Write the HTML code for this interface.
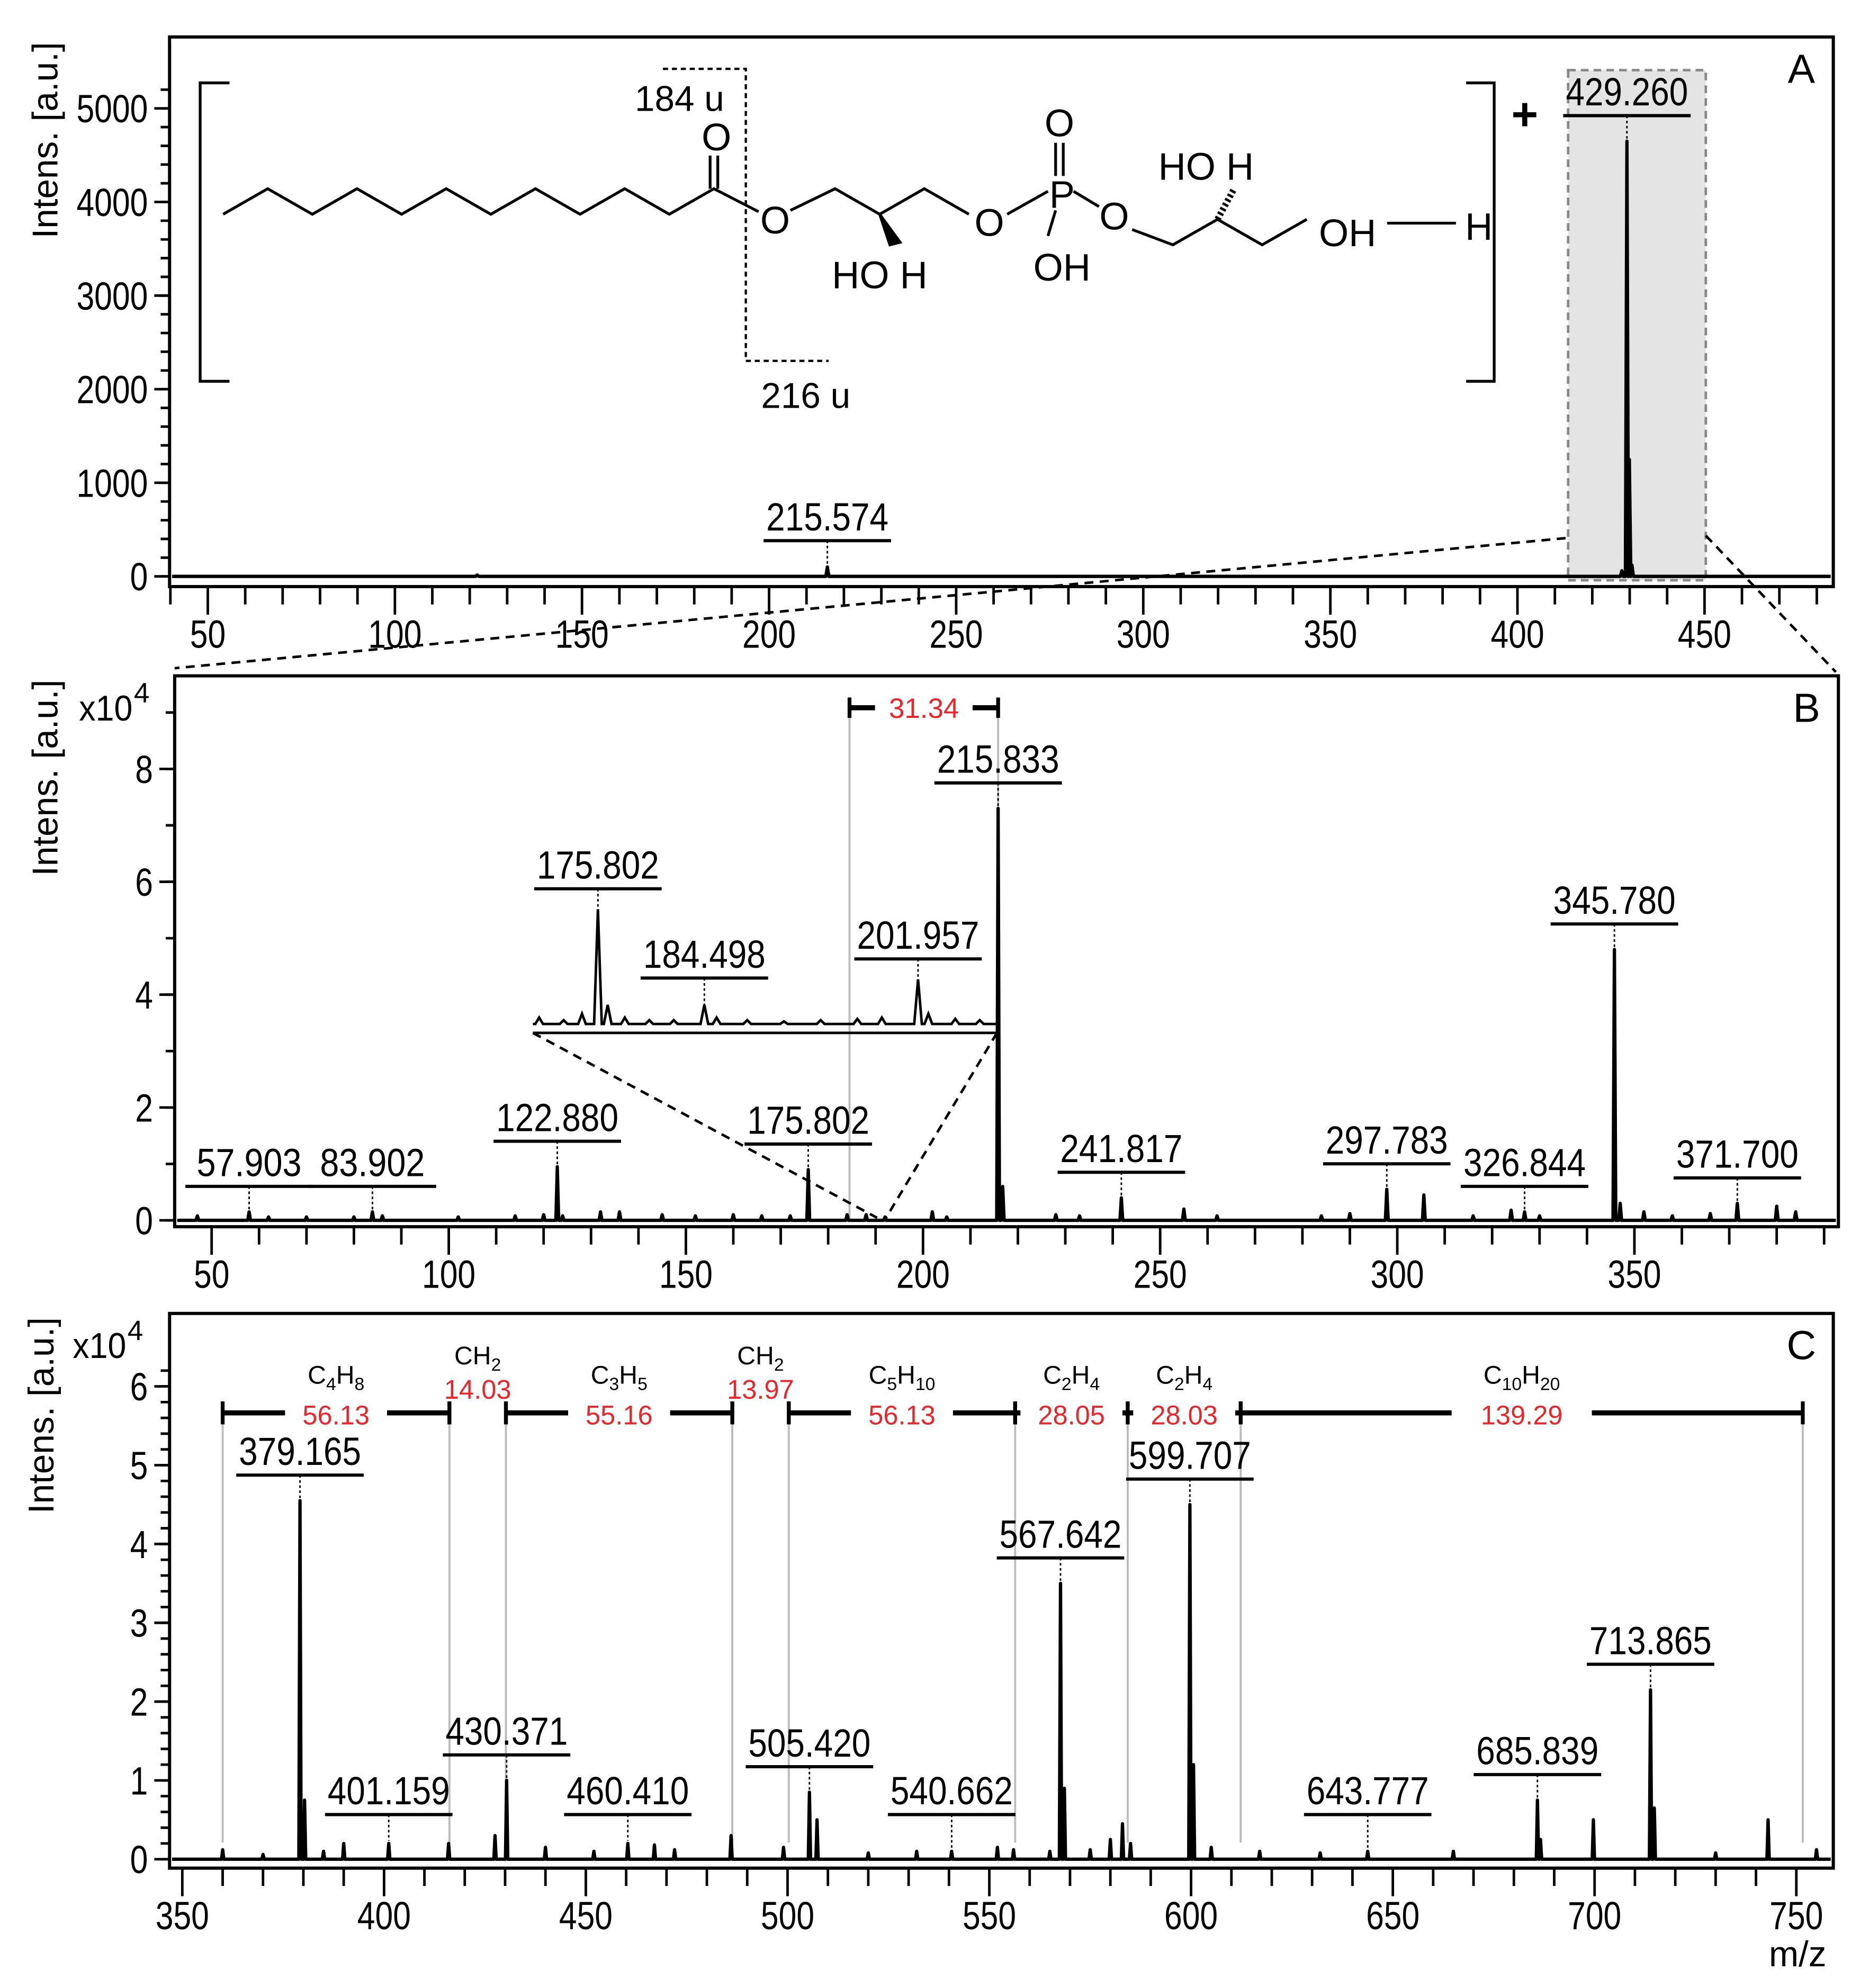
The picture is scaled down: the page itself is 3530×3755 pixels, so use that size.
<!DOCTYPE html>
<html><head><meta charset="utf-8"><style>
html,body{margin:0;padding:0;background:#fff}
svg{display:block}
text{font-family:"Liberation Sans Narrow","Liberation Sans",sans-serif}
</style></head><body>
<svg id="fig" xmlns="http://www.w3.org/2000/svg" width="3530" height="3755" viewBox="0 0 1466 1559" preserveAspectRatio="none">
<g id="structure" fill="none" stroke="#000" stroke-width="2.2">
 <polyline points="175,168 210,148 245,168 280,148 315,168 350,148 385,168 420,148 455,168 490,148 525,168 560,148 595,166"/>
 <line x1="557" y1="148" x2="557" y2="122"/><line x1="563" y1="148" x2="563" y2="122"/>
 <polyline points="620,165 655,148 690,168 725,148 760,168"/>
 <line x1="790" y1="168" x2="822" y2="150"/>
 <line x1="828" y1="138" x2="828" y2="112"/><line x1="834" y1="138" x2="834" y2="112"/>
 <line x1="828" y1="165" x2="822" y2="185"/>
 <line x1="842" y1="150" x2="862" y2="162"/>
 <polyline points="888,180 920,192 955,172 990,192 1025,172"/>
 <line x1="1088" y1="175" x2="1142" y2="175"/>
 <polygon points="690,168 698,192 706,190" fill="#000"/>
 <line x1="955" y1="172" x2="968" y2="148" stroke-dasharray="2,2" stroke-width="5"/>
 <polyline points="180,65 157,65 157,299 180,299"/>
 <polyline points="1150,65 1172,65 1172,299 1150,299"/>
 <polyline points="520,54 585,54 585,283 650,283" stroke-dasharray="4,3" stroke-width="1.8"/>
</g>
<g font-size="30" fill="#000">
 <text x="562" y="118" text-anchor="middle" style="font-family:'Liberation Sans',sans-serif">O</text>
 <text x="608" y="183" text-anchor="middle" style="font-family:'Liberation Sans',sans-serif">O</text>
 <text x="776" y="185" text-anchor="middle" style="font-family:'Liberation Sans',sans-serif">O</text>
 <text x="833" y="163" text-anchor="middle" style="font-family:'Liberation Sans',sans-serif">P</text>
 <text x="831" y="107" text-anchor="middle" style="font-family:'Liberation Sans',sans-serif">O</text>
 <text x="833" y="220" text-anchor="middle" style="font-family:'Liberation Sans',sans-serif">OH</text>
 <text x="874" y="180" text-anchor="middle" style="font-family:'Liberation Sans',sans-serif">O</text>
 <text x="1057" y="193" text-anchor="middle" style="font-family:'Liberation Sans',sans-serif">OH</text>
 <text x="1160" y="188" text-anchor="middle" style="font-family:'Liberation Sans',sans-serif">H</text>
 <text x="690" y="226" text-anchor="middle" style="font-family:'Liberation Sans',sans-serif">HO H</text>
 <text x="946" y="141" text-anchor="middle" style="font-family:'Liberation Sans',sans-serif">HO  H</text>
 <text x="533" y="87" text-anchor="middle" font-size="28" style="font-family:'Liberation Sans',sans-serif">184 u</text>
 <text x="632" y="320" text-anchor="middle" font-size="28" style="font-family:'Liberation Sans',sans-serif">216 u</text>
 <text x="1196" y="102" text-anchor="middle" font-size="36" font-weight="bold" style="font-family:'Liberation Sans',sans-serif">+</text>
</g>
</svg>
<script>
const NS="http://www.w3.org/2000/svg";
const svg=document.getElementById('fig');
// ---------- DATA ----------
const aTicksY=[0,1000,2000,3000,4000,5000];
const aTicksX=[50,100,150,200,250,300,350,400,450];
const aPeaksMz=[122,215.574,427.9,429.26,429.9,430.6];
const aPeaksI=[15,100,60,4650,1250,120];
const aLabels=["215.574","429.260"];
const aLabelMz=[215.574,429.26];

const bTicksY=[0,2,4,6,8];
const bTicksX=[50,100,150,200,250,300,350];
const bPeaksMz=[47,57.903,62,70,80,83.902,86,102,114,120,122.88,124,132,136,145,152,160,166,172,175.802,184,188,192,201.957,205,215.833,216.8,228,233,241.817,255,262,284,290,297.783,305.6,316,324,326.844,330,345.78,347,352,358,366,371.7,380,384];
const bPeaksI=[0.08,0.15,0.06,0.06,0.06,0.15,0.08,0.06,0.08,0.1,0.95,0.08,0.15,0.15,0.1,0.08,0.1,0.08,0.08,0.9,0.1,0.1,0.06,0.15,0.06,7.3,0.6,0.1,0.08,0.4,0.2,0.08,0.08,0.12,0.55,0.45,0.08,0.18,0.15,0.08,4.8,0.3,0.15,0.08,0.12,0.3,0.25,0.15];
const bLabels=["57.903","83.902","122.880","175.802","215.833","241.817","297.783","326.844","345.780","371.700"];
const bLabelMz=[57.903,83.902,122.88,175.802,215.833,241.817,297.783,326.844,345.78,371.7];
const insetMz=[171,173,174.5,175.802,176.6,178,180,182,184.498,185.5,188,191,194,197,199,201.957,202.8,205,207];
const insetI=[0.05,0.03,0.08,0.9,0.15,0.05,0.03,0.03,0.15,0.05,0.03,0.02,0.03,0.04,0.05,0.35,0.08,0.04,0.03];
const insetLabels=["175.802","184.498","201.957"];
const insetLabelMz=[175.802,184.498,201.957];

const cTicksY=[0,1,2,3,4,5,6];
const cTicksX=[350,400,450,500,550,600,650,700,750];
const cPeaksMz=[360,370,379.165,380.3,385,390,401.159,416,427.5,430.371,440,452,460.41,467,472,486,499,505.42,507.3,520,532,540.662,552,556,565,567.642,568.6,575,580,583,585,599.707,600.6,605,617,632,643.777,665,685.839,686.6,699.7,713.865,714.8,730,743,755];
const cPeaksI=[0.12,0.06,4.55,0.75,0.1,0.2,0.2,0.2,0.3,1.0,0.15,0.1,0.2,0.18,0.12,0.3,0.15,0.85,0.5,0.08,0.1,0.1,0.15,0.12,0.1,3.5,0.9,0.12,0.25,0.45,0.2,4.5,1.2,0.15,0.1,0.08,0.1,0.1,0.75,0.25,0.5,2.15,0.65,0.08,0.5,0.12];
const cLabels=["379.165","401.159","430.371","460.410","505.420","540.662","567.642","599.707","643.777","685.839","713.865"];
const cLabelMz=[379.165,401.159,430.371,460.41,505.42,540.662,567.642,599.707,643.777,685.839,713.865];
const cMarkMz=[360,416.2,430.2,486.3,500.3,556.4,584.3,612.3,751.6];
const cDiff=["56.13","14.03","55.16","13.97","56.13","28.05","28.03","139.29"];
const cFormula=[["C","4","H","8"],["CH","2"],["C","3","H","5"],["CH","2"],["C","5","H","10"],["C","2","H","4"],["C","2","H","4"],["C","10","H","20"]];

// ---------- helpers ----------
function el(tag,attrs,parent){const e=document.createElementNS(NS,tag);for(const k in attrs)e.setAttribute(k,attrs[k]);(parent||svg).appendChild(e);return e;}
function txt(s,x,y,size,attrs,parent){const t=el('text',Object.assign({x:x,y:y,'font-size':size},attrs||{}),parent);t.textContent=s;return t;}
function narrow(t,s,per){t.setAttribute('textLength',s.length*per);t.setAttribute('lengthAdjust','spacingAndGlyphs');}

function panel(cfg){
 const g=el('g',{});
 
 
 const X=m=>cfg.x0+(m-cfg.m0)*cfg.kx;
 const Y=v=>cfg.base-v*cfg.ky;
 const fr=el('rect',{x:cfg.L,y:cfg.T,width:cfg.R-cfg.L,height:cfg.B-cfg.T,fill:'none',stroke:'#000','stroke-width':2.5},g);
 
 
 if(cfg.pre)cfg.pre(g,X,Y);
 const yMax=cfg.yTicks[cfg.yTicks.length-1];
 for(let v=0;v<=yMax+cfg.yMinor*1.5+1e-9;v+=cfg.yMinor){const yy=Y(v);if(yy<cfg.T+3)break;el('line',{x1:cfg.L-7,x2:cfg.L,y1:yy,y2:yy,stroke:'#000','stroke-width':2},g);}
 cfg.yTicks.forEach(v=>{const yy=Y(v);el('line',{x1:cfg.L-12,x2:cfg.L,y1:yy,y2:yy,stroke:'#000','stroke-width':2},g);
  const s=cfg.yFmt(v);
  const t=txt(s,cfg.L-17,yy+11,31,{'text-anchor':'end'},g);
  narrow(t,s,14);
  
  });
 for(let m=cfg.xMinStart;m<=cfg.xMinEnd;m+=10){const xx=X(m);if(xx<cfg.L||xx>cfg.R)continue;const maj=(m%50===0);
  el('line',{x1:xx,x2:xx,y1:cfg.B,y2:cfg.B+(maj?22:14),stroke:'#000','stroke-width':2},g);}
 cfg.xTicks.forEach(m=>{const s=String(m);const t=txt(s,X(m),cfg.B+48,31,{'text-anchor':'middle'},g);
  narrow(t,s,14);
  
  });
 let d='M'+(cfg.L+2)+','+cfg.base;
 cfg.mz.map((m,i)=>[m,cfg.I[i]]).sort((a,b)=>a[0]-b[0]).forEach(([m,v])=>{const xx=X(m),w=cfg.pw;d+=' L'+(xx-w)+','+cfg.base+' L'+xx+','+Y(v)+' L'+(xx+w)+','+cfg.base;});
 d+=' L'+(cfg.R-2)+','+cfg.base;
 const sp=el('path',{d:d,fill:'none',stroke:'#000','stroke-width':2.6,'stroke-linejoin':'round'},g);
 
 
 cfg.labels.forEach((s,i)=>{const m=cfg.labelMz[i];const idx=cfg.mz.indexOf(m);const py=Y(cfg.I[idx]);
  const by=Math.min(py-20,cfg.base-cfg.minGap);const xx=X(m);
  const lg=el('g',{},g);
  
  
  el('line',{x1:xx,x2:xx,y1:by,y2:py-2,stroke:'#000','stroke-width':1.2,'stroke-dasharray':'2,2'},lg);
  el('line',{x1:xx-50,x2:xx+50,y1:by,y2:by,stroke:'#000','stroke-width':2.5},lg);
  const t=txt(s,xx,by-8,31,{'text-anchor':'middle'},lg);
  narrow(t,s,13.7);});
 const at=txt('Intens. [a.u.]',0,0,28,{'text-anchor':'middle',transform:'translate('+cfg.titleX+','+cfg.titleY+') rotate(-90)',style:"font-family:'Liberation Sans',sans-serif"},g);
 
 
 const pl=txt(cfg.letter,cfg.R-25,cfg.T+36,32,{'text-anchor':'middle',style:"font-family:'Liberation Sans',sans-serif"},g);
 
 
 if(cfg.post)cfg.post(g,X,Y);
 return g;
}

// Panel A
panel({name:'panel-a',L:133,R:1438,T:29,B:460,base:452,x0:163,m0:50,kx:2.935,ky:0.0734,yTicks:aTicksY,yMinor:200,yFmt:v=>String(v),
 xTicks:aTicksX,xMinStart:40,xMinEnd:480,mz:aPeaksMz,I:aPeaksI,pw:1.2,labels:aLabels,labelMz:aLabelMz,minGap:28,titleX:45,titleY:110,letter:'A',
 pre:(g,X,Y)=>{const r=el('rect',{x:1230,y:55,width:108,height:400,fill:'#e4e4e4',stroke:'#888','stroke-width':2,'stroke-dasharray':'6,4'},g);
  
  }});
// Panel B
panel({name:'panel-b',L:137,R:1442,T:530,B:962,base:957,x0:166,m0:50,kx:3.72,ky:44.25,yTicks:bTicksY,yMinor:1,yFmt:v=>String(v),
 xTicks:bTicksX,xMinStart:40,xMinEnd:390,mz:bPeaksMz,I:bPeaksI,pw:1.1,labels:bLabels,labelMz:bLabelMz,minGap:22,titleX:45,titleY:610,letter:'B',
 pre:(g,X,Y)=>{[184.5,215.833].forEach(m=>el('line',{x1:X(m),x2:X(m),y1:550,y2:957,stroke:'#bbb','stroke-width':1.6},g));
  el('line',{x1:X(184.5),x2:X(184.5)+20,y1:555,y2:555,stroke:'#000','stroke-width':4},g);
  el('line',{x1:X(215.833)-20,x2:X(215.833),y1:555,y2:555,stroke:'#000','stroke-width':4},g);
  [184.5,215.833].forEach(m=>el('line',{x1:X(m),x2:X(m),y1:547,y2:563,stroke:'#000','stroke-width':3},g));
  const dt=txt('31.34',X(200.2),563,22,{'text-anchor':'middle',fill:'#e8262b',style:"font-family:'Liberation Sans',sans-serif"},g);
  
  
  const xl=txt('x10',62,565,28,{},g);narrow(xl,'x10',14);txt('4',105,551,22,{},g);
  
  },
 post:(g,X,Y)=>{const ig=el('g',{},g);
  
  
  const XI=m=>469+(m-175.802)*9.6, YI=v=>803-v*100;
  let d='M418,803';insetMz.forEach((m,i)=>{const xx=XI(m);d+=' L'+(xx-3)+',803 L'+xx+','+YI(insetI[i])+' L'+(xx+3)+',803';});d+=' L782,803';
  el('path',{d:d,fill:'none',stroke:'#000','stroke-width':2},ig);
  el('line',{x1:418,x2:782,y1:810,y2:810,stroke:'#000','stroke-width':2},ig);
  el('line',{x1:418,y1:810,x2:688,y2:955,stroke:'#000','stroke-width':2,'stroke-dasharray':'7,5'},ig);
  el('line',{x1:782,y1:810,x2:695,y2:955,stroke:'#000','stroke-width':2,'stroke-dasharray':'7,5'},ig);
  insetLabels.forEach((s,i)=>{const m=insetLabelMz[i];const py=YI(insetI[insetMz.indexOf(m)]);const by=Math.min(py-16,767);const xx=XI(m);
   el('line',{x1:xx,x2:xx,y1:by,y2:py,stroke:'#000','stroke-width':1.2,'stroke-dasharray':'2,2'},ig);
   el('line',{x1:xx-50,x2:xx+50,y1:by,y2:by,stroke:'#000','stroke-width':2.5},ig);
   const t=txt(s,xx,by-8,31,{'text-anchor':'middle'},ig);
   narrow(t,s,13.7);});}});
// Panel C
panel({name:'panel-c',L:133,R:1438,T:1030,B:1465,base:1458,x0:143,m0:350,kx:3.165,ky:61.8,yTicks:cTicksY,yMinor:0.2,yFmt:v=>String(v),
 xTicks:cTicksX,xMinStart:350,xMinEnd:760,mz:cPeaksMz,I:cPeaksI,pw:0.9,labels:cLabels,labelMz:cLabelMz,minGap:35,titleX:42,titleY:1110,letter:'C',
 pre:(g,X,Y)=>{const xl=txt('x10',57,1065,28,{},g);narrow(xl,'x10',14);txt('4',100,1051,22,{},g);
  
  
  cMarkMz.forEach(m=>el('line',{x1:X(m),x2:X(m),y1:1100,y2:1445,stroke:'#bbb','stroke-width':1.6},g));
  for(let i=0;i<cDiff.length;i++){const a=X(cMarkMz[i]),b=X(cMarkMz[i+1]),c=(a+b)/2;const hw=i===7?55:(b-a<60?0:40);
   const sg=el('g',{},g);
   
   
   if(hw>0){el('line',{x1:a,x2:c-hw,y1:1108,y2:1108,stroke:'#000','stroke-width':4},sg);el('line',{x1:c+hw,x2:b,y1:1108,y2:1108,stroke:'#000','stroke-width':4},sg);}
   el('line',{x1:a,x2:a,y1:1099,y2:1117,stroke:'#000','stroke-width':3},sg);el('line',{x1:b,x2:b,y1:1099,y2:1117,stroke:'#000','stroke-width':3},sg);
   const small=(b-a<60);
   txt(cDiff[i],c,small?1097:1117,21,{'text-anchor':'middle',fill:'#e8262b',style:"font-family:'Liberation Sans',sans-serif"},sg);
   const f=cFormula[i];const ft=el('text',{x:c,y:small?1070:1085,'font-size':20,'text-anchor':'middle',style:"font-family:'Liberation Sans',sans-serif"},sg);
   f.forEach((p,j)=>{const ts=el('tspan',{},ft);ts.textContent=p;if(j%2===1){ts.setAttribute('font-size','14');ts.setAttribute('dy','5');}else if(j>0){ts.setAttribute('dy','-5');}});}},
 post:(g)=>{const mz=txt('m/z',1410,1542,28,{'text-anchor':'middle'},g);
  
  }});
const z=el('g',{});


el('line',{x1:1228,y1:422,x2:137,y2:524,stroke:'#000','stroke-width':2,'stroke-dasharray':'7,5'},z);
el('line',{x1:1338,y1:420,x2:1440,y2:527,stroke:'#000','stroke-width':2,'stroke-dasharray':'7,5'},z);
</script>
</body></html>
